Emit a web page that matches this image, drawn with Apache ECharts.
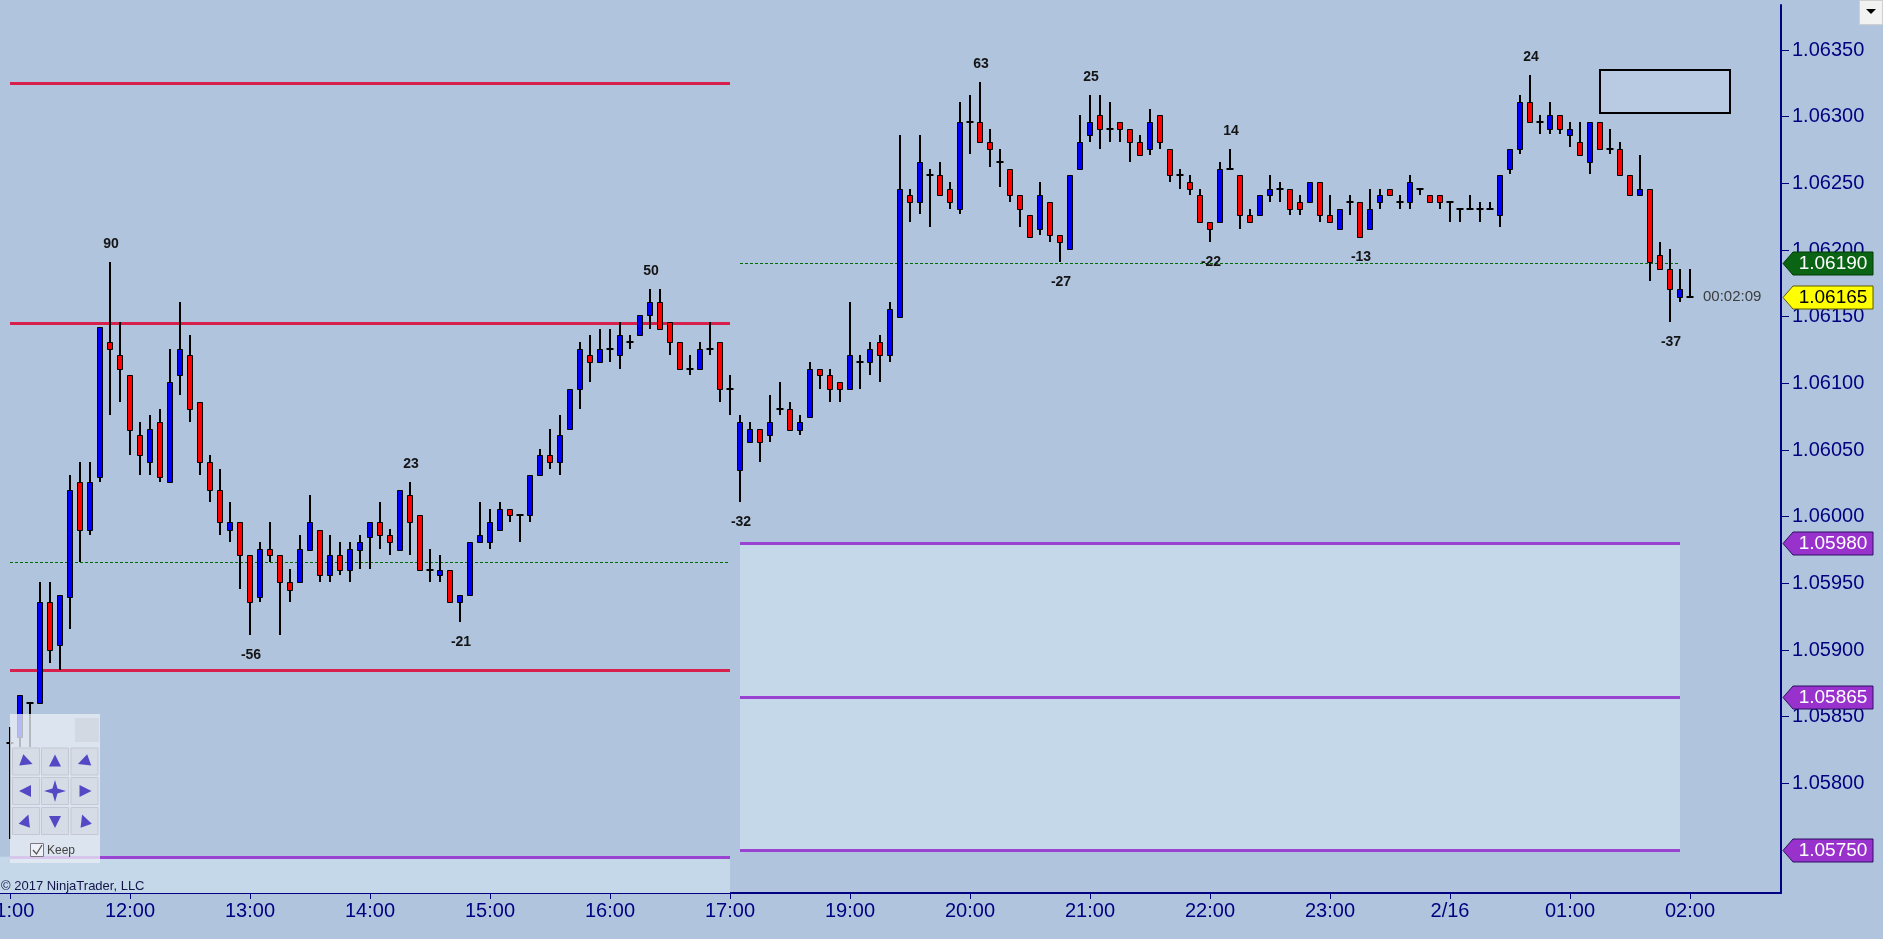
<!DOCTYPE html>
<html><head><meta charset="utf-8">
<style>html,body{margin:0;padding:0;background:#b0c4de;overflow:hidden}#chart{width:1883px;height:939px}</style>
<script src="https://cdn.jsdelivr.net/npm/echarts@6/dist/echarts.min.js"></script>
</head><body><div id="chart"></div>
<script>
// ---- axis labels ----
const hourTickBars = [0,12,24,36,48,60,72,84,96,108,120,132,144,156,168];
const hourTickLabels = ['11:00','12:00','13:00','14:00','15:00','16:00','17:00','19:00','20:00','21:00','22:00','23:00','2/16','01:00','02:00'];
const priceTicks = [1.05800,1.05850,1.05900,1.05950,1.06000,1.06050,1.06100,1.06150,1.06200,1.06250,1.06300,1.06350];

// ---- 5-minute bars (index 0 = 11:00) ----
const opens = [
1.05830,1.05835,1.05860,1.05860,1.05936,1.05904,1.05940,1.06026,1.05990,1.06030,1.06131,1.06121,
1.06106,1.06061,1.06041,1.06071,1.06026,1.06106,1.06121,1.06086,1.06041,1.06020,1.05990,1.05996,
1.05971,1.05940,1.05976,1.05971,1.05951,1.05951,1.05975,1.05990,1.05956,1.05971,1.05960,1.05975,
1.05985,1.05996,1.05986,1.05975,1.06016,1.06001,1.05960,1.05956,1.05960,1.05936,1.05941,1.05981,
1.05981,1.05990,1.06006,1.06001,1.06001,1.06031,1.06046,1.06041,1.06066,1.06096,1.06121,1.06116,
1.06126,1.06121,1.06131,1.06136,1.06151,1.06161,1.06146,1.06131,1.06111,1.06111,1.06126,1.06131,
1.06096,1.06035,1.06056,1.06066,1.06061,1.06081,1.06081,1.06065,1.06075,1.06111,1.06106,1.06101,
1.06096,1.06116,1.06116,1.06131,1.06121,1.06150,1.06241,1.06236,1.06256,1.06256,1.06246,1.06231,
1.06296,1.06296,1.06281,1.06266,1.06261,1.06241,1.06226,1.06216,1.06236,1.06211,1.06201,1.06261,
1.06286,1.06301,1.06291,1.06296,1.06291,1.06281,1.06276,1.06301,1.06276,1.06256,1.06251,1.06241,
1.06221,1.06221,1.06261,1.06256,1.06226,1.06226,1.06241,1.06246,1.06246,1.06236,1.06236,1.06251,
1.06226,1.06216,1.06236,1.06236,1.06216,1.06236,1.06246,1.06236,1.06236,1.06246,1.06241,1.06241,
1.06236,1.06231,1.06231,1.06231,1.06231,1.06226,1.06261,1.06276,1.06311,1.06296,1.06291,1.06301,
1.06286,1.06281,1.06266,1.06296,1.06276,1.06276,1.06256,1.06241,1.06246,1.06196,1.06186,1.06165,
1.06165];
const closes = [
1.05830,1.05866,1.05860,1.05936,1.05900,1.05941,1.06020,1.05990,1.06026,1.06142,1.06126,1.06111,
1.06065,1.06046,1.06066,1.06030,1.06101,1.06126,1.06081,1.06041,1.06020,1.05996,1.05996,1.05971,
1.05936,1.05976,1.05971,1.05951,1.05945,1.05976,1.05996,1.05956,1.05971,1.05960,1.05976,1.05981,
1.05996,1.05986,1.05981,1.06020,1.05996,1.05960,1.05960,1.05960,1.05936,1.05941,1.05981,1.05986,
1.05996,1.06006,1.06001,1.06001,1.06031,1.06046,1.06041,1.06061,1.06096,1.06126,1.06116,1.06126,
1.06126,1.06136,1.06131,1.06151,1.06161,1.06141,1.06131,1.06111,1.06111,1.06126,1.06126,1.06096,
1.06096,1.06071,1.06066,1.06056,1.06071,1.06081,1.06065,1.06071,1.06111,1.06106,1.06096,1.06096,
1.06121,1.06116,1.06126,1.06121,1.06156,1.06246,1.06236,1.06266,1.06256,1.06241,1.06236,1.06296,
1.06296,1.06281,1.06276,1.06266,1.06241,1.06231,1.06210,1.06241,1.06211,1.06206,1.06256,1.06281,
1.06296,1.06291,1.06291,1.06291,1.06281,1.06271,1.06296,1.06281,1.06256,1.06256,1.06246,1.06221,
1.06216,1.06261,1.06261,1.06226,1.06221,1.06241,1.06246,1.06246,1.06231,1.06231,1.06251,1.06226,
1.06221,1.06231,1.06236,1.06210,1.06231,1.06241,1.06241,1.06236,1.06251,1.06246,1.06236,1.06236,
1.06236,1.06231,1.06231,1.06231,1.06231,1.06256,1.06276,1.06311,1.06296,1.06296,1.06301,1.06291,
1.06291,1.06271,1.06296,1.06276,1.06276,1.06256,1.06241,1.06246,1.06191,1.06186,1.06171,1.06171,
1.06165];
const highs = [
1.05842,1.05866,1.05860,1.05951,1.05951,1.05941,1.06031,1.06041,1.06041,1.06142,1.06191,1.06146,
1.06106,1.06071,1.06076,1.06081,1.06126,1.06161,1.06136,1.06086,1.06046,1.06036,1.06011,1.05996,
1.05971,1.05981,1.05996,1.05971,1.05961,1.05986,1.06016,1.05990,1.05986,1.05981,1.05981,1.05986,
1.05996,1.06011,1.05991,1.06020,1.06026,1.06001,1.05976,1.05971,1.05960,1.05941,1.05981,1.06011,
1.06006,1.06011,1.06006,1.06001,1.06031,1.06051,1.06066,1.06076,1.06096,1.06131,1.06136,1.06141,
1.06141,1.06146,1.06136,1.06151,1.06171,1.06171,1.06146,1.06131,1.06121,1.06131,1.06146,1.06131,
1.06106,1.06076,1.06071,1.06066,1.06091,1.06101,1.06086,1.06076,1.06116,1.06111,1.06111,1.06101,
1.06161,1.06121,1.06131,1.06136,1.06161,1.06286,1.06246,1.06286,1.06261,1.06266,1.06251,1.06311,
1.06316,1.06326,1.06291,1.06276,1.06261,1.06241,1.06226,1.06251,1.06236,1.06211,1.06256,1.06301,
1.06316,1.06316,1.06311,1.06296,1.06291,1.06286,1.06306,1.06301,1.06276,1.06261,1.06256,1.06246,
1.06221,1.06266,1.06276,1.06256,1.06231,1.06241,1.06256,1.06251,1.06246,1.06241,1.06251,1.06251,
1.06241,1.06231,1.06241,1.06236,1.06246,1.06246,1.06246,1.06241,1.06256,1.06246,1.06241,1.06241,
1.06236,1.06231,1.06241,1.06236,1.06236,1.06256,1.06276,1.06316,1.06331,1.06301,1.06311,1.06301,
1.06296,1.06296,1.06296,1.06296,1.06291,1.06281,1.06256,1.06271,1.06246,1.06206,1.06201,1.06186,
1.06186];
const lows = [
1.05758,1.05827,1.05827,1.05860,1.05890,1.05885,1.05916,1.05966,1.05986,1.06026,1.06076,1.06086,
1.06046,1.06031,1.06031,1.06026,1.06026,1.06091,1.06071,1.06031,1.06011,1.05986,1.05981,1.05946,
1.05911,1.05936,1.05966,1.05911,1.05936,1.05951,1.05975,1.05951,1.05951,1.05956,1.05951,1.05961,
1.05961,1.05976,1.05971,1.05975,1.05971,1.05960,1.05951,1.05951,1.05936,1.05921,1.05941,1.05981,
1.05976,1.05990,1.05996,1.05981,1.05996,1.06031,1.06036,1.06031,1.06066,1.06081,1.06101,1.06116,
1.06116,1.06111,1.06126,1.06136,1.06141,1.06141,1.06121,1.06111,1.06106,1.06111,1.06121,1.06086,
1.06076,1.06011,1.06056,1.06041,1.06056,1.06076,1.06065,1.06061,1.06075,1.06096,1.06086,1.06086,
1.06096,1.06096,1.06106,1.06101,1.06116,1.06150,1.06221,1.06227,1.06217,1.06241,1.06231,1.06227,
1.06272,1.06281,1.06262,1.06247,1.06236,1.06217,1.06210,1.06211,1.06206,1.06191,1.06201,1.06261,
1.06281,1.06276,1.06281,1.06281,1.06266,1.06271,1.06271,1.06276,1.06251,1.06246,1.06241,1.06221,
1.06206,1.06221,1.06261,1.06216,1.06221,1.06226,1.06236,1.06236,1.06226,1.06226,1.06236,1.06221,
1.06221,1.06216,1.06226,1.06210,1.06216,1.06231,1.06241,1.06231,1.06231,1.06241,1.06236,1.06231,
1.06221,1.06221,1.06231,1.06221,1.06231,1.06217,1.06257,1.06272,1.06296,1.06287,1.06287,1.06287,
1.06277,1.06271,1.06257,1.06276,1.06272,1.06256,1.06241,1.06241,1.06177,1.06186,1.06146,1.06161,
1.06165];

// ---- swing labels ----
const swingBars  = [10, 24, 40, 45, 64, 73, 97, 105, 108, 120, 122, 135, 152, 166];
const swingTexts = ['90','-56','23','-21','50','-32','63','-27','25','-22','14','-13','24','-37'];

// ---- levels / zones ----
const leftSession = [0, 72];
const rightSession = [73, 167];
const leftRedLevels = [1.06325, 1.06145, 1.05885];
const leftGreenLevel = 1.05966;
const leftPurpleLevel = 1.05745;
const rightGreenLevel = 1.06190;
const rightPurpleLevels = [1.05980, 1.05865, 1.05750];
const badgePrices = [1.06190, 1.06165, 1.05980, 1.05865, 1.05750];
const badgeKinds  = ['green', 'yellow', 'purple', 'purple', 'purple'];
const boxBars = [159, 172];
const boxPrices = [1.06303, 1.06335];
const timerText = '00:02:09';
const copyrightText = '\u00a9 2017 NinjaTrader, LLC';

const X_MIN = -1, X_MAX = 177.1;
const Y_MIN = 1.0571775, Y_MAX = 1.0638375;
const FONT = '"Liberation Sans", Arial, sans-serif';
const NAVY = '#000080';

const candleData = opens.map((o, i) => [i, o, closes[i], lows[i], highs[i]]);

const levelData = [];
leftRedLevels.forEach(p => levelData.push([leftSession[0], leftSession[1], p, 0]));
levelData.push([leftSession[0], leftSession[1], leftGreenLevel, 1]);
levelData.push([leftSession[0], leftSession[1], leftPurpleLevel, 2]);
levelData.push([rightSession[0], rightSession[1], rightGreenLevel, 1]);
rightPurpleLevels.forEach(p => levelData.push([rightSession[0], rightSession[1], p, 2]));
const levelStyles = [
  {stroke: '#d8204c', lineWidth: 3},
  {stroke: '#006a00', lineWidth: 1, lineDash: [3, 2]},
  {stroke: '#9a42d2', lineWidth: 3}
];
const zoneData = [
  [X_MIN, leftSession[1], leftPurpleLevel, Y_MIN],
  [rightSession[0], rightSession[1], rightPurpleLevels[0], rightPurpleLevels[2]]
];
const swingData = swingBars.map((b, k) => {
  const below = swingTexts[k].charAt(0) === '-';
  return [b, below ? lows[b] : highs[b], below ? 1 : 0];
});
const badgeStyle = {
  green:  {fill: '#0a6414', stroke: '#033a08', text: '#ffffff'},
  yellow: {fill: '#ffff00', stroke: '#5a5a00', text: '#000000'},
  purple: {fill: '#9932cc', stroke: '#2a1060', text: '#ffffff'}
};

function txt(text, x, y, font, fill, align, valign) {
  return {type: 'text', x: x, y: y, z: 100,
    style: {text: text, font: font, fill: fill, textAlign: align, textVerticalAlign: valign, align: align, verticalAlign: valign}};
}

// ---- navigation widget (decoration) ----
function arrow(cx, cy, ang) {
  const a = ang * Math.PI / 180, s = 7, b = 5, w = 6;
  const ux = Math.cos(a), uy = Math.sin(a), px = -uy, py = ux;
  return {type: 'polygon', z: 102, shape: {points: [
    [cx + ux * s, cy + uy * s],
    [cx - ux * b + px * w, cy - uy * b + py * w],
    [cx - ux * b - px * w, cy - uy * b - py * w]]}, style: {fill: '#5548c4'}};
}
const widget = [];
widget.push({type: 'rect', z: 100, shape: {x: 10, y: 714, width: 90, height: 149}, style: {fill: 'rgba(232,237,244,0.78)'}});
widget.push({type: 'rect', z: 101, shape: {x: 75, y: 718, width: 24, height: 24}, style: {fill: 'rgba(205,212,222,0.7)'}});
widget.push(txt('\u00d7', 87, 730, '16px ' + FONT, '#e6eaf0', 'center', 'middle'));
const colX = [12.5, 41.5, 71], rowY = [748, 777.5, 807.5], bw = 27, bh = 27;
const arrowAngles = [[20, -90, 160], [180, null, 0], [-70, 90, -110]];
for (let r = 0; r < 3; r++) {
  for (let c = 0; c < 3; c++) {
    widget.push({type: 'rect', z: 101, shape: {x: colX[c], y: rowY[r], width: bw, height: bh},
      style: {fill: 'rgba(212,218,228,0.9)', stroke: '#c2c9d4', lineWidth: 1}});
    const cx = colX[c] + bw / 2, cy = rowY[r] + bh / 2;
    if (arrowAngles[r][c] === null) {
      const pts = [];
      for (let k = 0; k < 8; k++) {
        const ang = k * Math.PI / 4 - Math.PI / 2, rad = k % 2 === 0 ? 11 : 3.5;
        pts.push([cx + rad * Math.cos(ang), cy + rad * Math.sin(ang)]);
      }
      widget.push({type: 'polygon', z: 102, shape: {points: pts}, style: {fill: '#5548c4'}});
    } else {
      widget.push(arrow(cx, cy, arrowAngles[r][c]));
    }
  }
}
widget.push({type: 'rect', z: 101, shape: {x: 30.5, y: 843.5, width: 13, height: 13}, style: {fill: 'rgba(250,250,252,0.6)', stroke: '#7a7a80', lineWidth: 1}});
widget.push({type: 'polyline', z: 102, shape: {points: [[33, 850], [36.5, 854], [42, 845]]}, style: {stroke: '#555', lineWidth: 1.3, fill: null}});
widget.push(txt('Keep', 47, 851, '12px ' + FONT, '#444', 'left', 'middle'));

const graphics = widget.concat([
  txt(copyrightText, 1, 886, '13px ' + FONT, '#14144a', 'left', 'middle'),
  {type: 'rect', z: 100, shape: {x: 1859.5, y: 0.5, width: 23, height: 24}, style: {fill: '#f2f2f2', stroke: '#cfcfcf', lineWidth: 1}},
  {type: 'polygon', z: 101, shape: {points: [[1866, 9], [1876, 9], [1871, 14]]}, style: {fill: '#000'}}
]);

const chart = echarts.init(document.getElementById('chart'), null, {renderer: 'canvas', width: 1883, height: 939});
chart.setOption({
  animation: false,
  backgroundColor: '#b0c4de',
  grid: {left: 0, right: 102, top: 5, bottom: 46, containLabel: false, outerBoundsMode: 'none'},
  xAxis: {
    type: 'value', min: X_MIN, max: X_MAX, position: 'bottom',
    axisLine: {show: true, onZero: false, lineStyle: {color: NAVY, width: 2}},
    axisTick: {show: true, length: 6, customValues: hourTickBars, lineStyle: {color: NAVY, width: 1}},
    axisLabel: {show: true, customValues: hourTickBars, margin: 8, color: NAVY, fontSize: 20, fontFamily: FONT,
      hideOverlap: false, showMinLabel: true, showMaxLabel: true,
      formatter: v => { const k = hourTickBars.indexOf(Math.round(v)); return k >= 0 ? hourTickLabels[k] : ''; }},
    splitLine: {show: false}
  },
  yAxis: {
    type: 'value', min: Y_MIN, max: Y_MAX, position: 'right', scale: true,
    axisLine: {show: true, onZero: false, lineStyle: {color: NAVY, width: 2}},
    axisTick: {show: true, length: 8, customValues: priceTicks, lineStyle: {color: NAVY, width: 1}},
    axisLabel: {show: true, customValues: priceTicks, margin: 11, color: NAVY, fontSize: 20, fontFamily: FONT,
      formatter: v => v.toFixed(5)},
    splitLine: {show: false}
  },
  graphic: graphics,
  series: [
    { // zones
      type: 'custom', z: 1, silent: true, clip: true, data: zoneData, encode: {x: [0, 1], y: [2, 3]},
      renderItem: (params, api) => {
        const a = api.coord([api.value(0), api.value(2)]), b = api.coord([api.value(1), api.value(3)]);
        return {type: 'rect', shape: {x: a[0], y: a[1], width: b[0] - a[0], height: b[1] - a[1]}, style: {fill: '#c4d8ea'}};
      }
    },
    { // level lines
      type: 'custom', z: 2, silent: true, clip: true, data: levelData, encode: {x: [0, 1], y: 2},
      renderItem: (params, api) => {
        const a = api.coord([api.value(0), api.value(2)]), b = api.coord([api.value(1), api.value(2)]);
        const st = levelStyles[api.value(3)];
        const y = Math.round(a[1]) + 0.5;
        return {type: 'line', shape: {x1: a[0], y1: y, x2: b[0], y2: y},
          style: {stroke: st.stroke, lineWidth: st.lineWidth, lineDash: st.lineDash || null}};
      }
    },
    { // drawing box
      type: 'custom', z: 2, silent: true, clip: true, data: [[boxBars[0], boxBars[1], boxPrices[1], boxPrices[0]]], encode: {x: [0, 1], y: [2, 3]},
      renderItem: (params, api) => {
        const a = api.coord([api.value(0), api.value(2)]), b = api.coord([api.value(1), api.value(3)]);
        return {type: 'rect', shape: {x: Math.round(a[0]), y: Math.round(a[1]), width: Math.round(b[0] - a[0]), height: Math.round(b[1] - a[1])},
          style: {fill: 'rgba(255,255,255,0.12)', stroke: '#000', lineWidth: 2}};
      }
    },
    { // candles
      type: 'custom', z: 3, silent: true, clip: true, data: candleData, encode: {x: 0, y: [1, 2, 3, 4]},
      renderItem: (params, api) => {
        const i = api.value(0), o = api.value(1), c = api.value(2), l = api.value(3), h = api.value(4);
        const pO = api.coord([i, o]), pC = api.coord([i, c]), pL = api.coord([i, l]), pH = api.coord([i, h]);
        const x = Math.round(pO[0]);
        const ch = [{type: 'line', shape: {x1: x, y1: Math.round(pH[1]), x2: x, y2: Math.round(pL[1])}, style: {stroke: '#000', lineWidth: 2}}];
        if (o === c) {
          const y = Math.round(pO[1]);
          ch.push({type: 'line', shape: {x1: x - 3.5, y1: y, x2: x + 3.5, y2: y}, style: {stroke: '#000', lineWidth: 2}});
        } else {
          const t = Math.round(Math.min(pO[1], pC[1])) + 0.5, bt = Math.round(Math.max(pO[1], pC[1])) + 0.5;
          ch.push({type: 'rect', shape: {x: x - 2.5, y: t, width: 5, height: bt - t},
            style: {fill: c > o ? '#0000ff' : '#ff0000', stroke: '#000', lineWidth: 1}});
        }
        return {type: 'group', children: ch};
      }
    },
    { // swing labels
      type: 'custom', z: 4, silent: true, clip: false, data: swingData, encode: {x: 0, y: 1},
      renderItem: (params, api) => {
        const p = api.coord([api.value(0), api.value(1)]);
        const below = api.value(2) === 1;
        return {type: 'text', x: p[0] + 1, y: p[1] + (below ? 20 : -18),
          style: {text: swingTexts[params.dataIndex], fill: '#141414', font: 'bold 14px ' + FONT,
            textAlign: 'center', textVerticalAlign: 'middle', align: 'center', verticalAlign: 'middle'}};
      }
    },
    { // timer text next to last bar
      type: 'custom', z: 4, silent: true, clip: false, data: [[closes.length - 1, closes[closes.length - 1]]], encode: {x: 0, y: 1},
      renderItem: (params, api) => {
        const p = api.coord([api.value(0), api.value(1)]);
        return {type: 'text', x: p[0] + 13, y: p[1],
          style: {text: timerText, fill: '#3c3c3c', font: '15px ' + FONT,
            textAlign: 'left', textVerticalAlign: 'middle', align: 'left', verticalAlign: 'middle'}};
      }
    },
    { // price badges on the axis
      type: 'custom', z: 10, silent: true, clip: false, data: badgePrices.map(p => [X_MAX, p]), encode: {x: 0, y: 1},
      renderItem: (params, api) => {
        const p = api.coord([api.value(0), api.value(1)]);
        const x0 = params.coordSys.x + params.coordSys.width, y = Math.round(p[1]) + 0.5;
        const st = badgeStyle[badgeKinds[params.dataIndex]];
        return {type: 'group', children: [
          {type: 'polygon', shape: {points: [[x0 + 2, y], [x0 + 12, y - 11.5], [x0 + 92, y - 11.5], [x0 + 92, y + 11.5], [x0 + 12, y + 11.5]]},
            style: {fill: st.fill, stroke: st.stroke, lineWidth: 1}},
          {type: 'text', x: x0 + 52, y: y + 0.5, style: {text: api.value(1).toFixed(5), fill: st.text, font: '19px ' + FONT,
            textAlign: 'center', textVerticalAlign: 'middle', align: 'center', verticalAlign: 'middle'}}
        ]};
      }
    }
  ]
});
</script>
</body></html>
